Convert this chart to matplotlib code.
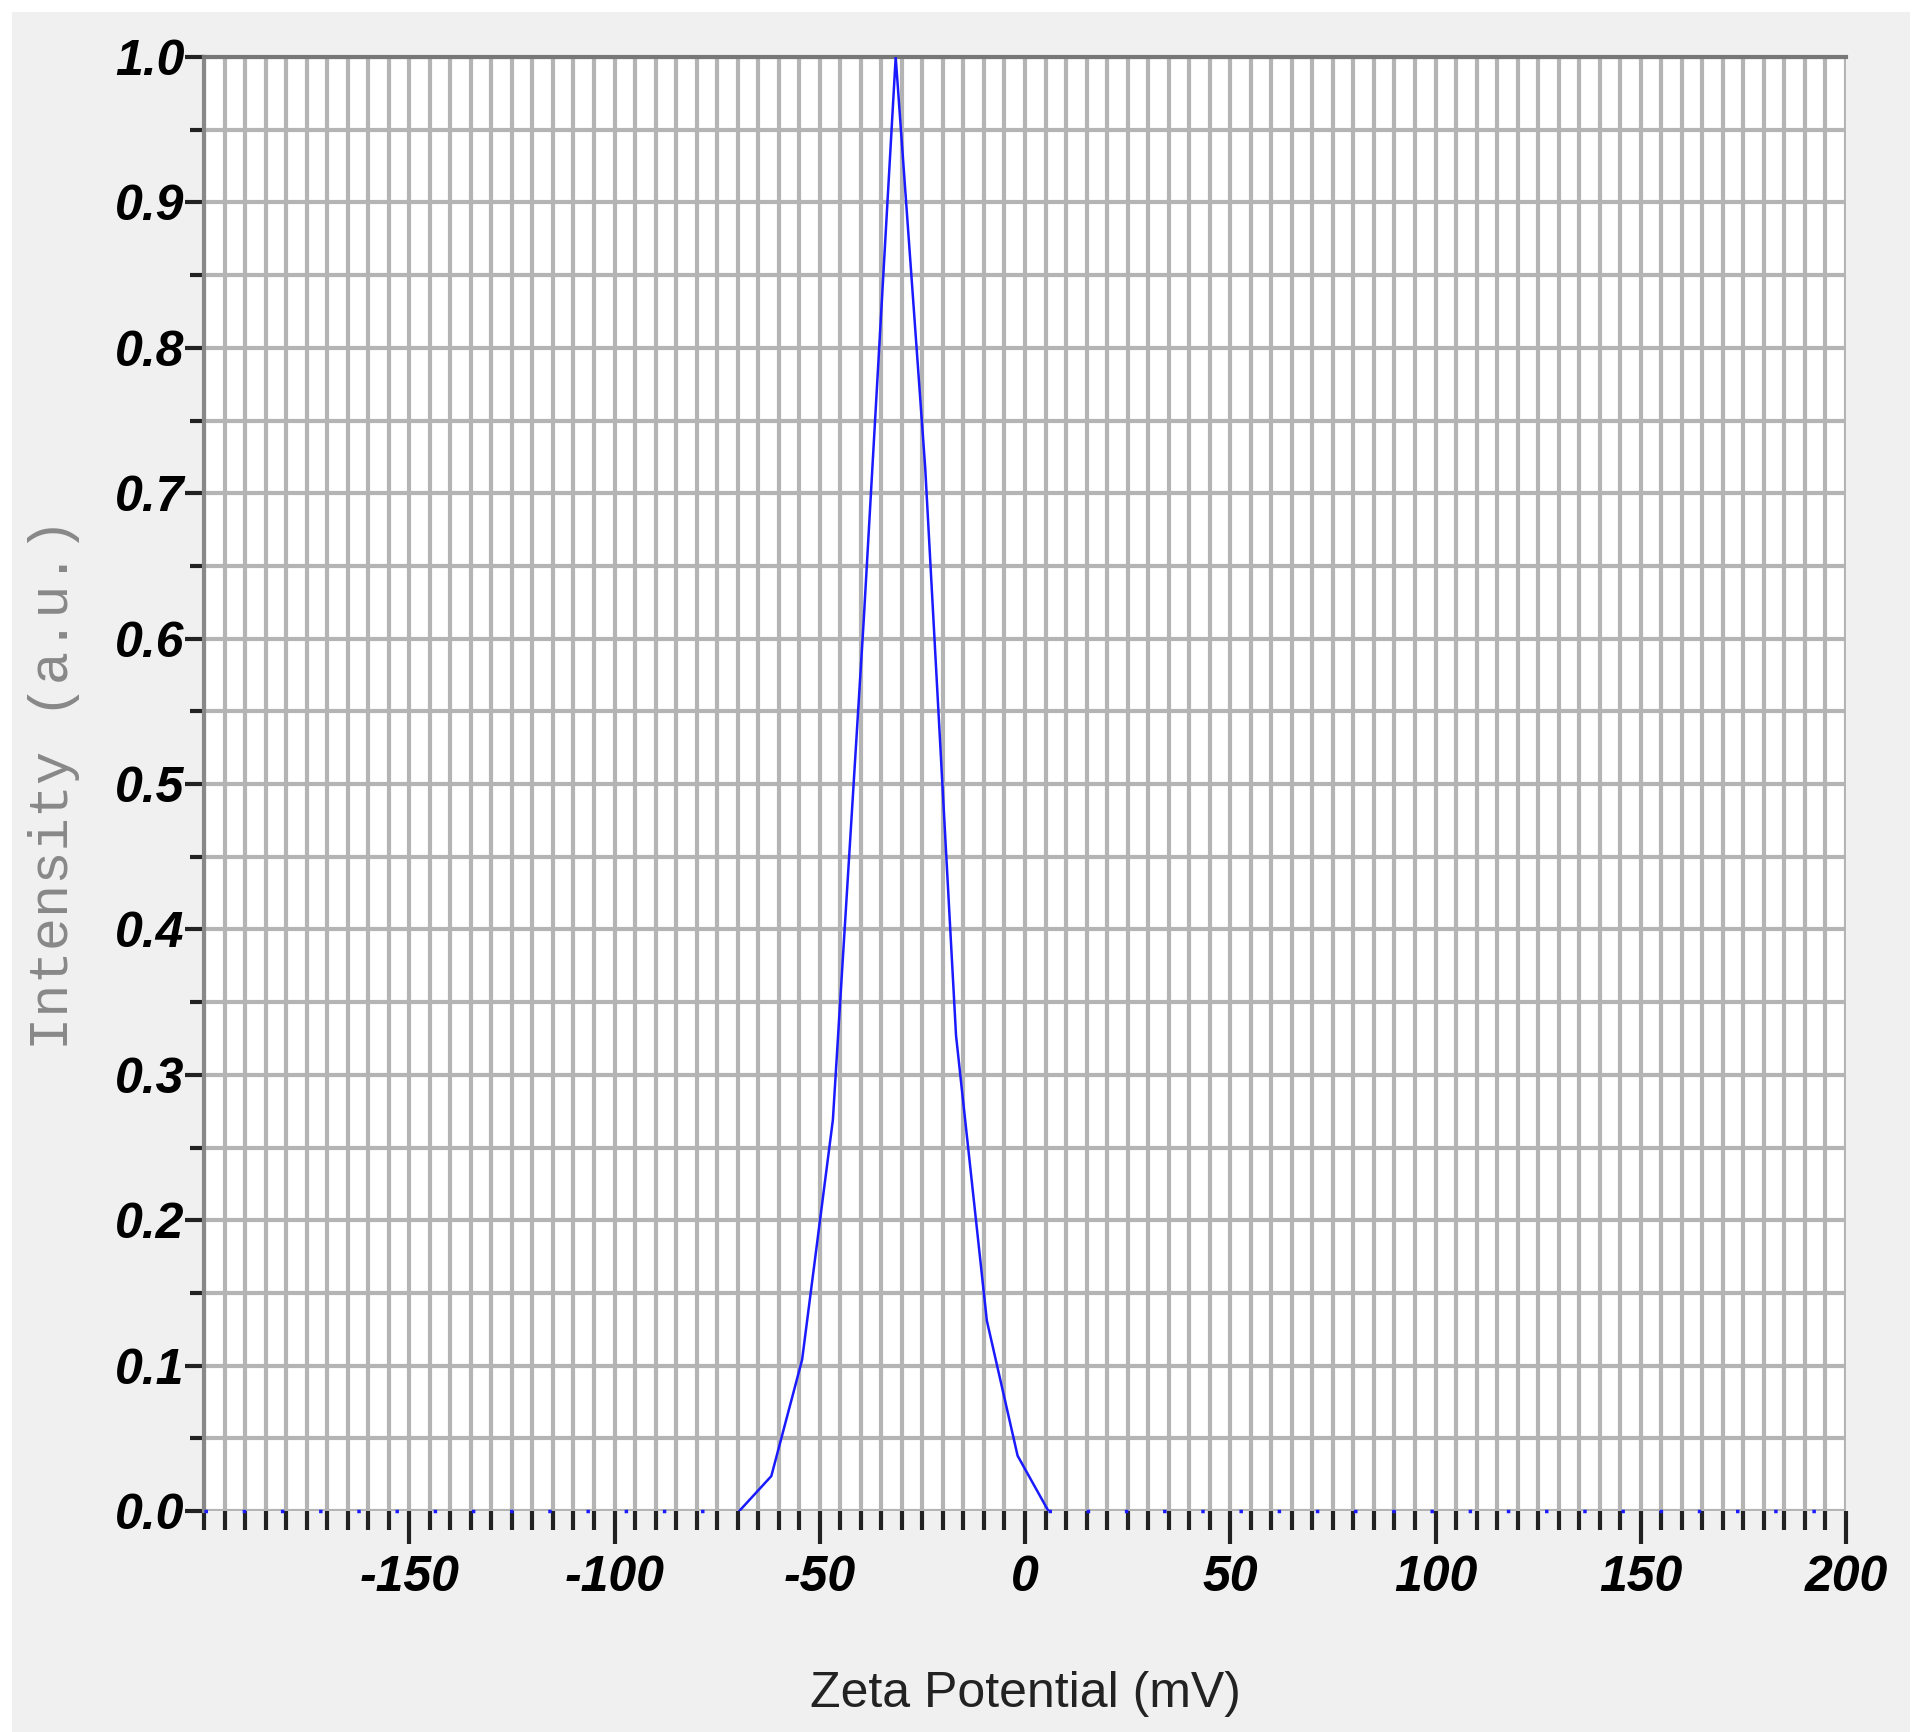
import matplotlib.pyplot as plt
from matplotlib.ticker import MultipleLocator, FixedLocator
from matplotlib.patches import Rectangle

# zeta potential distribution
zeta = [-69.6, -61.8, -54.3, -46.8, -39.3, -31.5, -24.3, -16.8, -9.3, -1.8, 5.7]
intensity = [0.0, 0.024, 0.104, 0.269, 0.612, 1.0, 0.717, 0.327, 0.131, 0.038, 0.0]
baseline_left = [-200, -69.6]
baseline_right = [5.7, 200]
x_ticks = [-150, -100, -50, 0, 50, 100, 150, 200]
y_ticks = [0.0, 0.1, 0.2, 0.3, 0.4, 0.5, 0.6, 0.7, 0.8, 0.9, 1.0]

fig = plt.figure(figsize=(19.2, 17.32), dpi=100, facecolor='white')
fig.patches.append(Rectangle((0.006, 0.0), 0.989, 0.993, transform=fig.transFigure,
                             facecolor='#f0f0f0', edgecolor='none', zorder=-10))
ax = fig.add_axes([204 / 1920, 1 - 1511 / 1732, (1846 - 204) / 1920, (1511 - 57) / 1732])
ax.set_facecolor('white')

ax.plot(zeta, intensity, color='#1a1aff', lw=1.8, zorder=5)
ax.plot(baseline_left, [0, 0], color='#1a1aff', lw=2.5, ls=(0, (1, 10)), zorder=6, clip_on=False)
ax.plot(baseline_right, [0, 0], color='#1a1aff', lw=2.5, ls=(0, (1, 10)), zorder=6, clip_on=False)

ax.set_xlim(-200, 200)
ax.set_ylim(0, 1.0)
ax.xaxis.set_major_locator(FixedLocator(x_ticks))
ax.xaxis.set_minor_locator(MultipleLocator(5))
ax.yaxis.set_major_locator(FixedLocator(y_ticks))
ax.yaxis.set_minor_locator(MultipleLocator(0.05))
ax.grid(which='both', color='#b4b4b4', lw=3)
ax.set_axisbelow(True)

ax.spines['right'].set_visible(False)
ax.spines['top'].set_color('#777777')
ax.spines['top'].set_linewidth(3)
ax.spines['left'].set_color('#888888')
ax.spines['left'].set_linewidth(3)
ax.spines['bottom'].set_visible(False)

tickfont = dict(family='Liberation Sans', weight='bold', style='italic', size=36)
ax.set_xticklabels([str(v) for v in x_ticks], **tickfont)
ax.set_yticklabels([f'{v:.1f}' for v in y_ticks], **tickfont)
ax.tick_params(axis='x', which='major', direction='out', length=24, width=3, color='#222222', pad=8)
ax.tick_params(axis='x', which='minor', direction='out', length=14, width=3, color='#222222')
ax.tick_params(axis='y', which='major', direction='out', length=14, width=3, color='#222222', pad=0)
ax.tick_params(axis='y', which='minor', direction='out', length=10, width=3, color='#222222')

ax.set_xlabel('Zeta Potential (mV)', family='Liberation Sans', size=36, color='#222222', labelpad=50)
ax.set_ylabel('Intensity (a.u.)', family='Liberation Mono', size=40, color='#888888', labelpad=25)

fig.savefig('out.png', dpi=100, facecolor=fig.get_facecolor())
